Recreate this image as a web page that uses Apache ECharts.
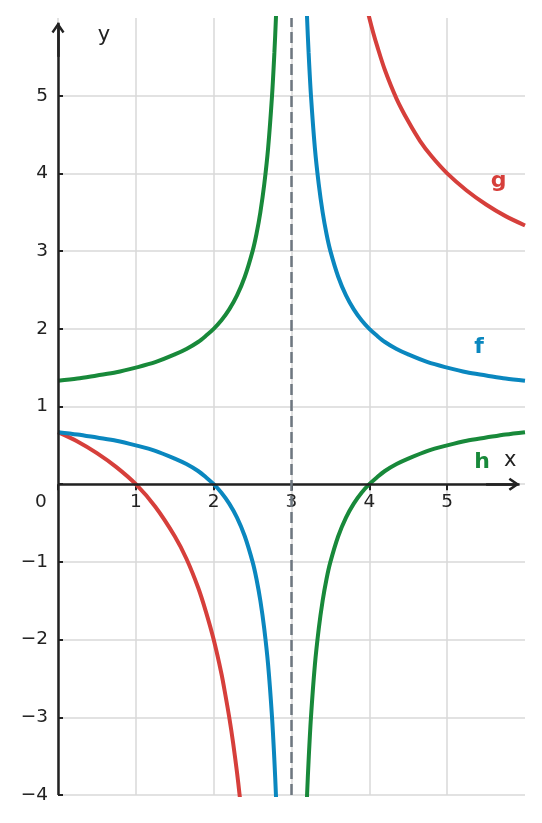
<!DOCTYPE html>
<html>
<head>
<meta charset="utf-8">
<script src="https://cdn.jsdelivr.net/npm/echarts@6/dist/echarts.min.js"></script>
<style>
  html, body { margin: 0; padding: 0; background: #fff; }
  #chart { width: 542px; height: 823px; }
</style>
</head>
<body>
<div id="chart"></div>
<script>
// values
const xLeft  = [0, 0.25, 0.5, 0.75, 1, 1.25, 1.5, 1.65, 1.8, 1.9, 2, 2.1, 2.2, 2.3, 2.4, 2.5, 2.55, 2.6, 2.65, 2.7, 2.75, 2.78, 2.8, 2.82];
const fLeft  = [0.67, 0.64, 0.6, 0.56, 0.5, 0.43, 0.33, 0.26, 0.17, 0.09, 0, -0.11, -0.25, -0.43, -0.67, -1, -1.22, -1.5, -1.86, -2.33, -3, -3.55, -4, -4.56];
const hLeft  = [1.33, 1.36, 1.4, 1.44, 1.5, 1.57, 1.67, 1.74, 1.83, 1.91, 2, 2.11, 2.25, 2.43, 2.67, 3, 3.22, 3.5, 3.86, 4.33, 5, 5.55, 6, 6.56];
const xRight = [3.18, 3.2, 3.22, 3.25, 3.3, 3.35, 3.4, 3.45, 3.5, 3.6, 3.7, 3.8, 3.9, 4, 4.1, 4.2, 4.35, 4.5, 4.75, 5, 5.25, 5.5, 5.75, 6];
const fRight = [6.56, 6, 5.55, 5, 4.33, 3.86, 3.5, 3.22, 3, 2.67, 2.43, 2.25, 2.11, 2, 1.91, 1.83, 1.74, 1.67, 1.57, 1.5, 1.44, 1.4, 1.36, 1.33];
const hRight = [-4.56, -4, -3.55, -3, -2.33, -1.86, -1.5, -1.22, -1, -0.67, -0.43, -0.25, -0.11, 0, 0.09, 0.17, 0.26, 0.33, 0.43, 0.5, 0.56, 0.6, 0.64, 0.67];
const gLeftX = [0, 0.25, 0.5, 0.75, 1, 1.25, 1.5, 1.65, 1.8, 1.9, 2, 2.1, 2.15, 2.2, 2.25, 2.3, 2.33, 2.36];
const gLeft  = [0.67, 0.55, 0.4, 0.22, 0, -0.29, -0.67, -0.96, -1.33, -1.64, -2, -2.44, -2.71, -3, -3.33, -3.71, -3.97, -4.25];
const gRightX = [3.95, 4, 4.05, 4.1, 4.2, 4.35, 4.5, 4.65, 4.8, 5, 5.25, 5.5, 5.75, 6];
const gRight  = [6.21, 6, 5.81, 5.64, 5.33, 4.96, 4.67, 4.42, 4.22, 4, 3.78, 3.6, 3.45, 3.33];
const asymptoteX = 3;
const xRange = [0, 6];
const yRange = [-4, 6];
const xTicks = [0, 1, 2, 3, 4, 5];
const xTickLabels = [0, 1, 2, 3, 4, 5];
const yTicks = [-4, -3, -2, -1, 0, 1, 2, 3, 4, 5];
const yTickLabels = [-4, -3, -2, -1, 1, 2, 3, 4, 5];

const colors = { f: '#0a87bf', g: '#d63f3b', h: '#18893a' };
const ink = '#222';
const font = 'DejaVu Sans';

function pairs(xs, ys) {
  return xs.map((x, i) => [x, ys[i]]);
}

function curve(name, xs, ys, labelAt) {
  const s = {
    name: name,
    type: 'line',
    data: pairs(xs, ys),
    smooth: 0.3,
    showSymbol: false,
    symbol: 'none',
    z: 3,
    lineStyle: { color: colors[name], width: 4 },
    silent: true
  };
  if (labelAt) {
    s.markPoint = {
      silent: true,
      symbol: 'circle',
      symbolSize: 1,
      itemStyle: { color: 'rgba(0,0,0,0)' },
      label: {
        show: true, position: 'inside', formatter: name,
        color: colors[name], fontFamily: font, fontWeight: 'bold', fontSize: 22
      },
      data: [{ coord: labelAt }]
    };
  }
  return s;
}

// open arrow head, tip up
const chevron = 'path://M0,9 L6,0 L12,9 L10.2,10.4 L6,4.2 L1.8,10.4 Z';

const option = {
  animation: false,
  grid: { left: 58, right: 17, top: 18, bottom: 28, containLabel: false },
  xAxis: {
    type: 'value', min: xRange[0], max: xRange[1], interval: 1,
    position: 'bottom', offset: 0,
    axisLine: { show: false, onZero: false },
    axisTick: { show: true, length: 6, customValues: xTicks, lineStyle: { color: ink, width: 2 } },
    axisLabel: {
      margin: 8, color: ink, fontFamily: font, fontSize: 18.5,
      customValues: xTickLabels,
      formatter: v => v === 0 ? '{z|0}' : String(v),
      rich: { z: { padding: [0, 34, 0, 0], color: ink, fontFamily: font, fontSize: 18.5 } }
    },
    splitLine: { show: true, lineStyle: { color: '#d9d9d9', width: 1.5 } }
  },
  yAxis: {
    type: 'value', min: yRange[0], max: yRange[1], interval: 1,
    axisLine: { show: false, onZero: false },
    axisTick: { show: true, inside: true, length: 5, customValues: yTicks, lineStyle: { color: ink, width: 2 } },
    axisLabel: {
      margin: 10, color: ink, fontFamily: font, fontSize: 18.5,
      customValues: yTickLabels,
      formatter: v => String(v).replace('-', '\u2212')
    },
    splitLine: { show: true, lineStyle: { color: '#d9d9d9', width: 1.5 } }
  },
  series: [
    {
      name: 'axes', type: 'line', data: [], z: 2, silent: true,
      markLine: {
        silent: true, animation: false,
        label: { show: false },
        data: [
          [{ coord: [0, yRange[0]], symbol: 'none' }, { coord: [0, 5.94], symbol: 'none' }],
          [{ coord: [0, 5.5], symbol: 'none' }, { coord: [0, 5.875], symbol: chevron, symbolSize: [13, 11] }],
          [{ coord: [0, 0], symbol: 'none' }, { coord: [5.93, 0], symbol: 'none' }],
          [{ coord: [5.5, 0], symbol: 'none' }, { coord: [5.86, 0], symbol: chevron, symbolSize: [13, 11] }]
        ],
        lineStyle: { color: ink, width: 2.5, type: 'solid' }
      },
      markPoint: {
        silent: true, symbol: 'circle', symbolSize: 1,
        itemStyle: { color: 'rgba(0,0,0,0)' },
        label: { show: true, position: 'inside', color: ink, fontFamily: font, fontSize: 21 },
        data: [
          { coord: [5.81, 0.3], label: { formatter: 'x' } },
          { coord: [0.59, 5.78], label: { formatter: 'y' } }
        ]
      }
    },
    {
      name: 'asymptote', type: 'line', data: [], z: 1, silent: true,
      markLine: {
        silent: true, animation: false, symbol: 'none',
        label: { show: false },
        lineStyle: { color: '#6e7780', width: 2.5, type: [11, 5] },
        data: [{ xAxis: asymptoteX }]
      }
    },
    curve('g', gLeftX, gLeft),
    curve('g', gRightX, gRight, [5.66, 3.9]),
    curve('f', xLeft, fLeft),
    curve('f', xRight, fRight, [5.41, 1.76]),
    curve('h', xLeft, hLeft),
    curve('h', xRight, hRight, [5.45, 0.28])
  ]
};

const chart = echarts.init(document.getElementById('chart'), null, { renderer: 'canvas' });
chart.setOption(option);

// move the x axis (ticks + labels) up to the y = 0 line
const zeroY = chart.convertToPixel({ xAxisIndex: 0, yAxisIndex: 0 }, [0, 0])[1];
const bottomY = chart.convertToPixel({ xAxisIndex: 0, yAxisIndex: 0 }, [0, yRange[0]])[1];
chart.setOption({ xAxis: { offset: zeroY - bottomY } });
</script>
</body>
</html>
